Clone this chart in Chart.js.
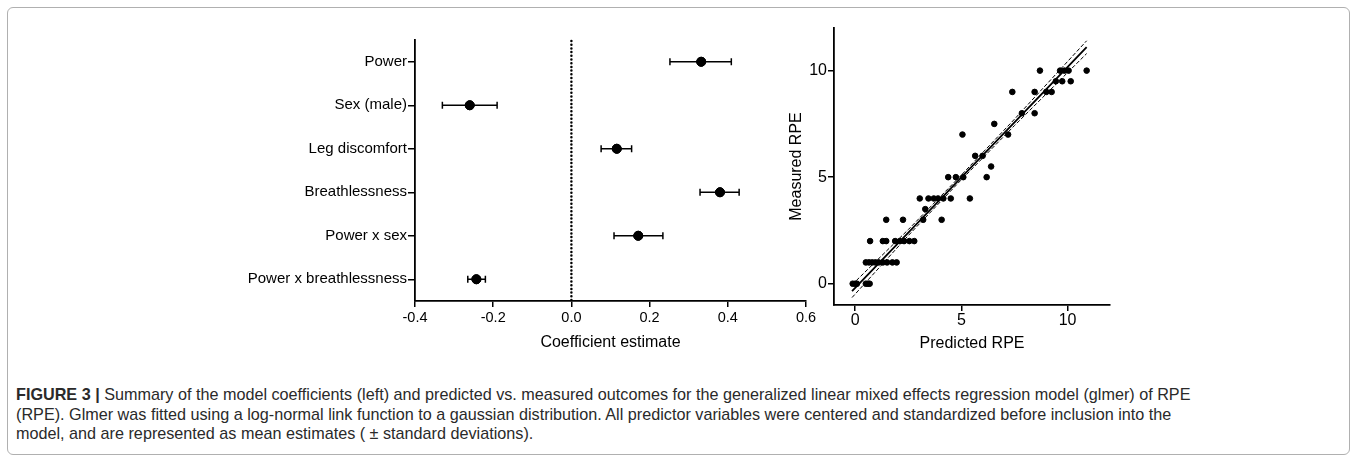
<!DOCTYPE html>
<html>
<head>
<meta charset="utf-8">
<script src="https://cdn.jsdelivr.net/npm/chart.js@4.4.0/dist/chart.umd.min.js"></script>
<style>
  html, body { margin: 0; padding: 0; background: #fff; }
  body { width: 1358px; height: 462px; position: relative; overflow: hidden; font-family: "Liberation Sans", Arial, sans-serif; }
  #frame { position: absolute; left: 7px; top: 7px; width: 1341px; height: 446px; border: 1px solid #b0b0b0; border-radius: 6px; }
  #coefChart { position: absolute; left: 0; top: 0; }
  #rpeChart { position: absolute; left: 750px; top: 0; }
  #caption { position: absolute; left: 16px; top: 385px; font-size: 16.2px; line-height: 19.5px; color: #2a2a2a; white-space: nowrap; }
  #caption b { font-weight: bold; }
</style>
</head>
<body>
<div id="frame"></div>
<canvas id="coefChart" width="830" height="360"></canvas>
<canvas id="rpeChart" width="380" height="360"></canvas>
<div id="caption">
  <div><b>FIGURE 3 |</b> Summary of the model coefficients (left) and predicted vs. measured outcomes for the generalized linear mixed effects regression model (glmer) of RPE</div>
  <div>(RPE). Glmer was fitted using a log-normal link function to a gaussian distribution. All predictor variables were centered and standardized before inclusion into the</div>
  <div>model, and are represented as mean estimates ( ± standard deviations).</div>
</div>
<script>
// left panel: model coefficients
const predictors = ['Power', 'Sex (male)', 'Leg discomfort', 'Breathlessness', 'Power x sex', 'Power x breathlessness'];
const estimates = [0.332, -0.26, 0.116, 0.38, 0.171, -0.243];
const lowerSD = [0.252, -0.33, 0.076, 0.329, 0.109, -0.265];
const upperSD = [0.409, -0.19, 0.154, 0.429, 0.234, -0.22];
const coefTicks = [-0.4, -0.2, 0.0, 0.2, 0.4, 0.6];

// right panel: predicted vs measured RPE
const predicted = [
  -0.12, 0.0, 0.08, 0.5, 0.6, 0.68,
  0.5, 0.65, 0.8, 0.95, 1.1, 1.3, 1.5, 1.75, 1.95,
  0.7, 1.3, 1.46, 1.88, 2.1, 2.3, 2.55, 2.78,
  1.46, 2.25, 3.2, 4.07, 3.3,
  3.04, 3.45, 3.7, 3.9, 4.15, 4.5, 5.4,
  4.38, 4.74, 5.09, 6.19,
  5.05, 5.65, 6.0, 6.4, 6.55, 7.2, 7.4, 7.85, 8.45, 8.45, 8.7,
  9.0, 9.25, 9.45, 9.75, 10.15, 9.65, 9.85, 10.05, 10.9
];
const measured = [
  0, 0, 0, 0, 0, 0,
  1, 1, 1, 1, 1, 1, 1, 1, 1,
  2, 2, 2, 2, 2, 2, 2, 2,
  3, 3, 3, 3, 3.5,
  4, 4, 4, 4, 4, 4, 4,
  5, 5, 5, 5,
  7, 6, 6, 5.5, 7.5, 7, 9, 8, 9, 8, 10,
  9, 9, 9.5, 9.5, 9.5, 10, 10, 10, 10
];
const fitX = [-0.15, 2.5, 5, 7.5, 10.9];
const fitY = [-0.35, 2.4, 4.99, 7.57, 11.1];
const fitUpper = [-0.05, 2.54, 5.1, 7.72, 11.4];
const fitLower = [-0.65, 2.26, 4.88, 7.42, 10.8];
const rpeTicks = [0, 5, 10];

const fontFamily = '"Liberation Sans", Arial, sans-serif';

const errorBars = {
  id: 'errorBars',
  beforeDatasetsDraw(chart) {
    const { ctx, chartArea, scales: { x } } = chart;
    const zx = x.getPixelForValue(0);
    ctx.save();
    ctx.strokeStyle = '#000';
    ctx.lineWidth = 2.5;
    ctx.lineCap = 'round';
    ctx.setLineDash([0, 3.7]);
    ctx.beginPath();
    ctx.moveTo(zx, chartArea.top + 1);
    ctx.lineTo(zx, chartArea.bottom);
    ctx.stroke();
    ctx.restore();
  },
  afterDatasetsDraw(chart) {
    const { ctx, scales: { x } } = chart;
    const meta = chart.getDatasetMeta(0);
    ctx.save();
    ctx.strokeStyle = '#000';
    ctx.lineWidth = 1.5;
    meta.data.forEach((pt, i) => {
      const x1 = x.getPixelForValue(lowerSD[i]);
      const x2 = x.getPixelForValue(upperSD[i]);
      const y = pt.y;
      ctx.beginPath();
      ctx.moveTo(x1, y); ctx.lineTo(x2, y);
      ctx.moveTo(x1, y - 3.5); ctx.lineTo(x1, y + 3.5);
      ctx.moveTo(x2, y - 3.5); ctx.lineTo(x2, y + 3.5);
      ctx.stroke();
    });
    ctx.restore();
    meta.data.forEach(pt => pt.draw(ctx));
  }
};

new Chart(document.getElementById('coefChart'), {
  type: 'scatter',
  data: {
    labels: predictors,
    datasets: [{
      data: predictors.map((p, i) => ({ x: estimates[i], y: p })),
      backgroundColor: '#000',
      borderColor: '#000',
      pointRadius: 4.5
    }]
  },
  options: {
    responsive: false,
    animation: false,
    layout: { padding: { left: 0, top: 40, right: 24, bottom: 0 } },
    plugins: { legend: { display: false }, tooltip: { enabled: false } },
    scales: {
      x: {
        type: 'linear',
        min: -0.4,
        max: 0.6,
        afterFit: s => { s.height = 59; },
        afterBuildTicks: s => { s.ticks = coefTicks.map(v => ({ value: v })); },
        ticks: {
          color: '#000',
          padding: 2,
          font: { family: fontFamily, size: 14.5 },
          callback: v => v.toFixed(1)
        },
        grid: { drawOnChartArea: false, tickLength: 6, color: '#000', lineWidth: 1.5 },
        border: { color: '#000', width: 1.8 },
        title: {
          display: true,
          text: 'Coefficient estimate',
          color: '#000',
          font: { family: fontFamily, size: 16 },
          padding: { top: 0, bottom: 8 }
        }
      },
      y: {
        type: 'category',
        labels: predictors,
        offset: true,
        afterFit: s => { s.width = 415; },
        ticks: {
          color: '#000',
          padding: 1,
          font: { family: fontFamily, size: 15 }
        },
        grid: { drawOnChartArea: false, offset: false, tickLength: 7, color: '#000', lineWidth: 1.5 },
        border: { color: '#000', width: 1.8 }
      }
    }
  },
  plugins: [errorBars]
});

new Chart(document.getElementById('rpeChart'), {
  type: 'scatter',
  data: {
    datasets: [
      {
        data: fitX.map((v, i) => ({ x: v, y: fitUpper[i] })),
        showLine: true, borderColor: '#000', borderWidth: 1, borderDash: [4, 2], pointRadius: 0
      },
      {
        data: fitX.map((v, i) => ({ x: v, y: fitLower[i] })),
        showLine: true, borderColor: '#000', borderWidth: 1, borderDash: [4, 2], pointRadius: 0
      },
      {
        data: fitX.map((v, i) => ({ x: v, y: fitY[i] })),
        showLine: true, borderColor: '#000', borderWidth: 1.8, pointRadius: 0
      },
      {
        data: predicted.map((v, i) => ({ x: v, y: measured[i] })),
        backgroundColor: '#000', borderColor: '#000', pointRadius: 2.8
      }
    ]
  },
  options: {
    responsive: false,
    animation: false,
    layout: { padding: { left: 0, top: 28, right: 20, bottom: 0 } },
    plugins: { legend: { display: false }, tooltip: { enabled: false } },
    scales: {
      x: {
        type: 'linear',
        min: -1,
        max: 12,
        afterFit: s => { s.height = 55; },
        afterBuildTicks: s => { s.ticks = rpeTicks.map(v => ({ value: v })); },
        ticks: { color: '#000', padding: 0, font: { family: fontFamily, size: 16 } },
        grid: { drawOnChartArea: false, tickLength: 6, color: '#000', lineWidth: 1.5 },
        border: { color: '#000', width: 1.8 },
        title: {
          display: true,
          text: 'Predicted RPE',
          color: '#000',
          font: { family: fontFamily, size: 16 },
          padding: { top: 0, bottom: 7 }
        }
      },
      y: {
        type: 'linear',
        min: -1,
        max: 12,
        afterFit: s => { s.width = 84; },
        afterBuildTicks: s => { s.ticks = rpeTicks.map(v => ({ value: v })); },
        ticks: { color: '#000', padding: 1, font: { family: fontFamily, size: 16 } },
        grid: { drawOnChartArea: false, tickLength: 6, color: '#000', lineWidth: 1.5 },
        border: { color: '#000', width: 1.8 },
        title: {
          display: true,
          text: 'Measured RPE',
          color: '#000',
          font: { family: fontFamily, size: 16 },
          padding: { top: 37, bottom: 0 }
        }
      }
    }
  }
});
</script>
</body>
</html>
